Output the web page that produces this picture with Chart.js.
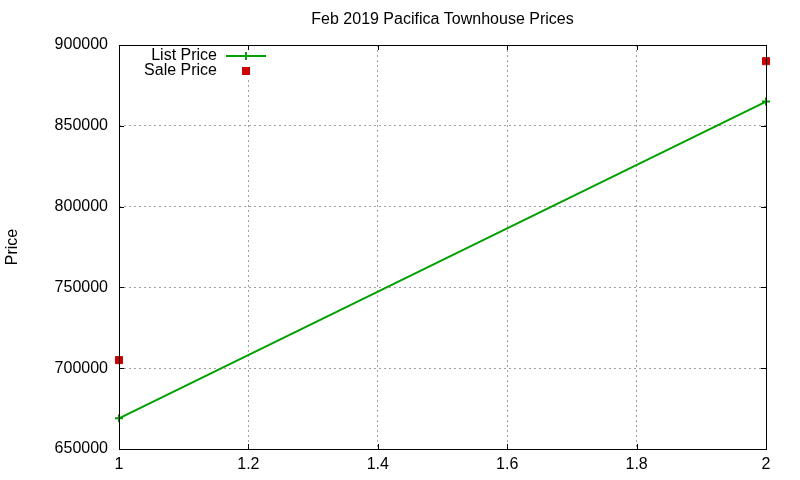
<!DOCTYPE html>
<html>
<head>
<meta charset="utf-8">
<script src="https://cdn.jsdelivr.net/npm/chart.js@4.4.1/dist/chart.umd.min.js"></script>
<style>
  body { margin: 0; background: #fff; }
</style>
</head>
<body>
<canvas id="priceChart" width="800" height="480"></canvas>
<script>
// data
const xValues = [1, 2];
const listPrice = [669000, 865000];
const salePrice = [705000, 890000];
const seriesNames = ["List Price", "Sale Price"];
const chartTitle = "Feb 2019 Pacifica Townhouse Prices";
const yTitle = "Price";

const FONT = "'Liberation Sans', Arial, sans-serif";
const GREEN = "#00a000";
const RED = "#cc0000";

// gnuplot style frame, inward ticks, title and key drawn by hand
const framePlugin = {
  id: "frame",
  beforeDatasetsDraw(chart) {
    const { ctx, chartArea } = chart;
    // clear key area like gnuplot does
    ctx.save();
    ctx.fillStyle = "#fff";
    ctx.fillRect(chartArea.left + 20, chartArea.top + 2, 130, 32);
    ctx.restore();
  },
  afterDatasetsDraw(chart) {
    const { ctx, chartArea, scales } = chart;
    const { left, right, top, bottom } = chartArea;
    ctx.save();
    ctx.strokeStyle = "#000";
    ctx.lineWidth = 1;
    ctx.beginPath();
    scales.y.ticks.forEach(t => {
      const py = Math.round(scales.y.getPixelForValue(t.value)) + 0.5;
      ctx.moveTo(left, py); ctx.lineTo(left + 5, py);
      ctx.moveTo(right, py); ctx.lineTo(right - 5, py);
    });
    scales.x.ticks.forEach(t => {
      const px = Math.round(scales.x.getPixelForValue(t.value)) + 0.5;
      ctx.moveTo(px, bottom); ctx.lineTo(px, bottom - 5);
      ctx.moveTo(px, top); ctx.lineTo(px, top + 5);
    });
    ctx.stroke();
    ctx.strokeRect(Math.round(left) + 0.5, Math.round(top) + 0.5,
      Math.round(right - left), Math.round(bottom - top));

    // title, centred over the plot area
    ctx.font = "16px " + FONT;
    ctx.fillStyle = "#000";
    ctx.textAlign = "center";
    ctx.textBaseline = "middle";
    ctx.fillText(chartTitle, (left + right) / 2, 20);

    // key
    ctx.textAlign = "right";
    const kx = left + 98;
    const sx = left + 127;
    const ds = chart.data.datasets;
    ctx.fillText(ds[0].label, kx, top + 11);
    ctx.fillText(ds[1].label, kx, top + 26);
    ctx.strokeStyle = ds[0].borderColor;
    ctx.lineWidth = 2;
    ctx.beginPath();
    ctx.moveTo(sx - 20, top + 11); ctx.lineTo(sx + 20, top + 11);
    ctx.moveTo(sx, top + 7); ctx.lineTo(sx, top + 15);
    ctx.stroke();
    ctx.fillStyle = ds[1].backgroundColor;
    ctx.fillRect(sx - 4, top + 22, 8, 8);
    ctx.restore();
  }
};

const ctx = document.getElementById("priceChart").getContext("2d");
const myChart = new Chart(ctx, {
  type: "line",
  data: {
    datasets: [
      {
        label: seriesNames[0],
        data: xValues.map((x, i) => ({ x: x, y: listPrice[i] })),
        borderColor: GREEN,
        backgroundColor: GREEN,
        borderWidth: 2,
        pointStyle: "cross",
        pointRadius: 4,
        pointBorderWidth: 2,
        tension: 0,
        clip: false,
      },
      {
        label: seriesNames[1],
        data: xValues.map((x, i) => ({ x: x, y: salePrice[i] })),
        borderColor: RED,
        backgroundColor: RED,
        showLine: false,
        pointStyle: "rect",
        pointRadius: 5,
        pointBorderWidth: 1,
        clip: false,
      },
    ],
  },
  options: {
    responsive: false,
    animation: false,
    layout: { padding: { left: 0, right: 34, top: 45, bottom: 0 } },
    scales: {
      x: {
        type: "linear",
        min: 1,
        max: 2,
        afterFit: s => { s.height = 31; },
        ticks: {
          stepSize: 0.2,
          color: "#000",
          padding: 6,
          font: { family: FONT, size: 16 },
          callback: v => String(Math.round(v * 10) / 10),
        },
        grid: { color: "#a0a0a0", drawTicks: false },
        border: { display: false, dash: [2, 3] },
      },
      y: {
        min: 650000,
        max: 900000,
        afterFit: s => { s.width = 119; },
        title: {
          display: true,
          text: yTitle,
          color: "#000",
          padding: { top: 3, bottom: 0 },
          font: { family: FONT, size: 16 },
        },
        ticks: {
          stepSize: 50000,
          color: "#000",
          padding: 11,
          font: { family: FONT, size: 16 },
          callback: v => String(v),
        },
        grid: { color: "#a0a0a0", drawTicks: false },
        border: { display: false, dash: [2, 3] },
      },
    },
    plugins: {
      legend: { display: false },
      tooltip: { enabled: false },
      title: { display: false, text: chartTitle },
    },
  },
  plugins: [framePlugin],
});
</script>
</body>
</html>
